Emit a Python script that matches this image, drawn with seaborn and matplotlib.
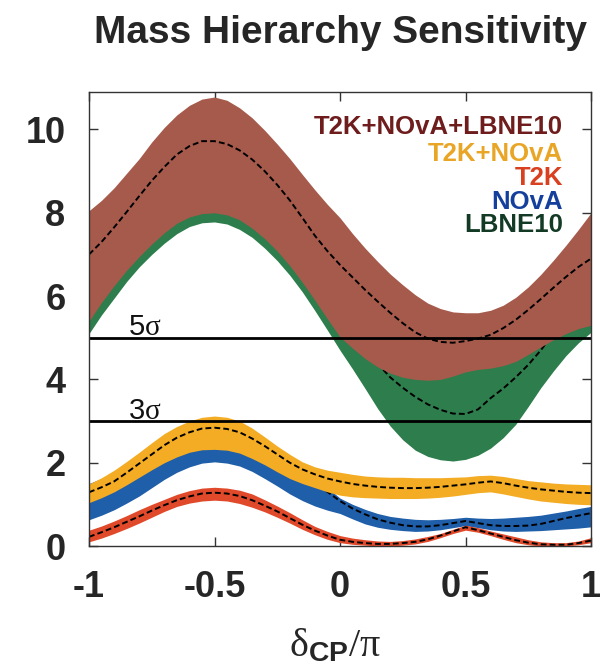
import numpy as np
import pandas as pd
import matplotlib
matplotlib.use("Agg")
import matplotlib.pyplot as plt
import seaborn as sns

# ---------------- data ----------------
delta_cp = [-1.0, -0.95, -0.9, -0.85, -0.8, -0.75, -0.7, -0.65, -0.6, -0.55,
            -0.5, -0.45, -0.4, -0.35, -0.3, -0.25, -0.2, -0.15, -0.1, -0.05,
            0.0, 0.05, 0.1, 0.15, 0.2, 0.25, 0.3, 0.35, 0.4, 0.45,
            0.5, 0.55, 0.6, 0.65, 0.7, 0.75, 0.8, 0.85, 0.9, 0.95, 1.0]

# T2K+NOvA+LBNE10
comb_hi = [8.05, 8.3, 8.6, 8.95, 9.3, 9.7, 10.05, 10.35, 10.58, 10.73,
           10.78, 10.7, 10.52, 10.28, 9.98, 9.65, 9.3, 8.92, 8.55, 8.2,
           7.88, 7.5, 7.15, 6.83, 6.53, 6.27, 6.03, 5.83, 5.7, 5.62,
           5.6, 5.6, 5.66, 5.78, 5.97, 6.22, 6.52, 6.86, 7.22, 7.6, 8.0]
comb_mid = [7.0, 7.3, 7.65, 8.02, 8.4, 8.77, 9.1, 9.4, 9.6, 9.72,
            9.72, 9.65, 9.5, 9.28, 9.0, 8.67, 8.3, 7.88, 7.45, 7.08,
            6.75, 6.45, 6.15, 5.87, 5.6, 5.35, 5.13, 4.98, 4.9, 4.88,
            4.92, 4.98, 5.07, 5.23, 5.43, 5.67, 5.93, 6.2, 6.46, 6.7, 6.9]
comb_lo = [5.4, 5.85, 6.25, 6.62, 6.95, 7.25, 7.52, 7.75, 7.9, 7.98,
           8.0, 7.95, 7.83, 7.63, 7.38, 7.08, 6.73, 6.33, 5.9, 5.45,
           5.02, 4.75, 4.5, 4.3, 4.15, 4.05, 4.0, 3.98, 4.0, 4.08,
           4.18, 4.24, 4.27, 4.33, 4.43, 4.6, 4.78, 4.95, 5.1, 5.22, 5.3]

# LBNE10
lbne_hi = [7.5, 7.85, 8.2, 8.6, 9.0, 9.4, 9.8, 10.1, 10.3, 10.38,
           10.4, 10.33, 10.2, 9.93, 9.6, 9.18, 8.7, 8.15, 7.6, 7.05,
           6.5, 6.08, 5.7, 5.43, 5.2, 5.03, 4.88, 4.7, 4.52, 4.4,
           4.35, 4.45, 4.6, 4.78, 5.0, 5.25, 5.5, 5.9, 6.4, 6.9, 7.4]
lbne_mid = [6.3, 6.7, 7.1, 7.5, 7.9, 8.27, 8.6, 8.83, 9.0, 9.08,
            9.1, 9.03, 8.9, 8.65, 8.35, 8.0, 7.6, 7.12, 6.6, 6.1,
            5.6, 5.15, 4.75, 4.38, 4.05, 3.8, 3.58, 3.4, 3.27, 3.18,
            3.17, 3.28, 3.55, 3.78, 4.05, 4.35, 4.7, 5.1, 5.5, 5.9, 6.3]
lbne_lo = [5.1, 5.55, 5.95, 6.35, 6.7, 7.0, 7.27, 7.5, 7.67, 7.76,
           7.78, 7.73, 7.6, 7.41, 7.15, 6.85, 6.5, 6.1, 5.65, 5.18,
           4.7, 4.25, 3.78, 3.3, 2.88, 2.55, 2.3, 2.15, 2.07, 2.04,
           2.08, 2.18, 2.35, 2.6, 2.92, 3.35, 3.8, 4.2, 4.57, 4.88, 5.13]

# T2K+NOvA
t2knova_hi = [1.49, 1.64, 1.82, 2.03, 2.25, 2.48, 2.7, 2.87, 3.0, 3.09,
              3.12, 3.09, 3.0, 2.83, 2.62, 2.4, 2.2, 2.02, 1.9, 1.82,
              1.77, 1.72, 1.68, 1.66, 1.65, 1.65, 1.64, 1.64, 1.64, 1.65,
              1.66, 1.69, 1.7, 1.67, 1.62, 1.57, 1.54, 1.51, 1.49, 1.48, 1.47]
t2knova_mid = [1.29, 1.41, 1.55, 1.76, 1.98, 2.2, 2.42, 2.6, 2.73, 2.82,
               2.84, 2.81, 2.73, 2.58, 2.4, 2.2, 2.0, 1.84, 1.72, 1.62,
               1.55, 1.49, 1.45, 1.42, 1.4, 1.39, 1.39, 1.4, 1.42, 1.45,
               1.48, 1.52, 1.55, 1.51, 1.45, 1.4, 1.36, 1.33, 1.3, 1.28, 1.27]
t2knova_lo = [1.04, 1.16, 1.3, 1.47, 1.65, 1.83, 2.0, 2.14, 2.25, 2.31,
              2.32, 2.3, 2.23, 2.1, 1.95, 1.78, 1.62, 1.5, 1.4, 1.3,
              1.22, 1.18, 1.16, 1.15, 1.14, 1.14, 1.14, 1.15, 1.17, 1.2,
              1.24, 1.28, 1.3, 1.25, 1.19, 1.13, 1.08, 1.05, 1.02, 1.0, 0.99]

# NOvA
nova_hi = [1.5, 1.62, 1.78, 1.95, 2.13, 2.31, 2.48, 2.62, 2.73, 2.8,
           2.82, 2.8, 2.73, 2.6, 2.45, 2.28, 2.1, 1.94, 1.7, 1.4,
           1.15, 1.0, 0.88, 0.78, 0.71, 0.67, 0.64, 0.63, 0.64, 0.66,
           0.69, 0.67, 0.66, 0.67, 0.69, 0.71, 0.74, 0.79, 0.84, 0.9, 0.95]
nova_mid = [1.15, 1.25, 1.4, 1.57, 1.75, 1.93, 2.1, 2.24, 2.35, 2.41,
            2.43, 2.4, 2.33, 2.2, 2.05, 1.88, 1.72, 1.6, 1.48, 1.3,
            1.08, 0.9, 0.76, 0.64, 0.56, 0.5, 0.47, 0.47, 0.5, 0.55,
            0.6, 0.55, 0.5, 0.48, 0.48, 0.49, 0.53, 0.6, 0.67, 0.73, 0.79]
nova_lo = [0.63, 0.74, 0.87, 1.03, 1.2, 1.4, 1.6, 1.77, 1.9, 1.99,
           2.02, 1.99, 1.92, 1.79, 1.62, 1.44, 1.25, 1.09, 0.96, 0.86,
           0.78, 0.65, 0.53, 0.45, 0.4, 0.37, 0.35, 0.36, 0.39, 0.44,
           0.49, 0.44, 0.39, 0.36, 0.35, 0.36, 0.37, 0.39, 0.41, 0.43, 0.46]

# T2K
t2k_hi = [0.38, 0.48, 0.6, 0.73, 0.87, 1.0, 1.12, 1.24, 1.33, 1.39,
          1.41, 1.39, 1.34, 1.25, 1.11, 0.96, 0.8, 0.63, 0.47, 0.35,
          0.25, 0.19, 0.15, 0.12, 0.11, 0.13, 0.17, 0.23, 0.3, 0.4,
          0.5, 0.44, 0.36, 0.29, 0.22, 0.15, 0.1, 0.08, 0.08, 0.12, 0.2]
t2k_mid = [0.22, 0.33, 0.45, 0.58, 0.71, 0.85, 0.98, 1.1, 1.19, 1.26,
           1.28, 1.26, 1.2, 1.1, 0.97, 0.83, 0.67, 0.51, 0.37, 0.25,
           0.15, 0.1, 0.07, 0.05, 0.05, 0.07, 0.1, 0.16, 0.25, 0.35,
           0.45, 0.38, 0.3, 0.22, 0.14, 0.08, 0.04, 0.03, 0.03, 0.07, 0.13]
t2k_lo = [0.1, 0.19, 0.3, 0.42, 0.55, 0.69, 0.83, 0.95, 1.03, 1.08,
          1.1, 1.08, 1.02, 0.93, 0.82, 0.69, 0.55, 0.4, 0.27, 0.16,
          0.08, 0.04, 0.02, 0.0, 0.0, 0.02, 0.05, 0.11, 0.2, 0.3,
          0.38, 0.33, 0.25, 0.16, 0.08, 0.03, 0.0, 0.0, 0.0, 0.03, 0.08]

legend_labels = ["T2K+NOvA+LBNE10", "T2K+NOvA", "T2K", "NOvA", "LBNE10"]
sigma_levels = [5, 3]
sigma_labels = [r"5$\mathrm{\sigma}$", r"3$\mathrm{\sigma}$"]
x_ticks = [-1, -0.5, 0, 0.5, 1]
x_tick_labels = ["-1", "-0.5", "0", "0.5", "1"]
y_ticks = [0, 2, 4, 6, 8, 10]

# ---------------- styling ----------------
sns.set_theme(style="ticks")
plt.rcParams["font.family"] = ["Liberation Sans", "DejaVu Sans"]
plt.rcParams["mathtext.fontset"] = "custom"
plt.rcParams["mathtext.rm"] = "Liberation Serif"
plt.rcParams["mathtext.it"] = "Liberation Serif"
plt.rcParams["mathtext.bf"] = "Liberation Sans:bold"

C_COMB = "#a65a4b"
C_LBNE = "#2e7d4c"
C_T2KNOVA = "#f3ac24"
C_NOVA = "#1f5ea9"
C_T2K = "#e0492a"
T_COMB = "#6e1c1c"
T_T2KNOVA = "#e9a526"
T_T2K = "#d9401f"
T_NOVA = "#143f9c"
T_LBNE = "#123a24"

df = pd.DataFrame({
    "x": delta_cp,
    "comb": comb_mid, "lbne": lbne_mid, "t2knova": t2knova_mid,
    "nova": nova_mid, "t2k": t2k_mid,
})

fig = plt.figure(figsize=(6.15, 6.68), dpi=100)
ax = fig.add_axes([89 / 615, 1 - 546 / 668, (591 - 89) / 615, (546 - 92) / 668])

dash_kw = dict(color="black", linewidth=1.4, dashes=(3, 1.6))

bands = [
    (lbne_lo, lbne_hi, "lbne", C_LBNE),
    (comb_lo, comb_hi, "comb", C_COMB),
    (nova_lo, nova_hi, "nova", C_NOVA),
    (t2knova_lo, t2knova_hi, "t2knova", C_T2KNOVA),
    (t2k_lo, t2k_hi, "t2k", C_T2K),
]
z = 2.0
for lo, hi, key, col in bands:
    ax.fill_between(delta_cp, lo, hi, color=col, linewidth=0, zorder=z)
    sns.lineplot(data=df, x="x", y=key, ax=ax, zorder=z + 0.05, **dash_kw)
    z += 0.1

for lvl, lab in zip(sigma_levels, sigma_labels):
    ax.axhline(lvl, color="black", linewidth=2.0, zorder=4)
    ax.text(-0.845, lvl + 0.06, lab, fontsize=21, ha="left", va="baseline",
            color="#111111", zorder=5)

legend_y = [10.05, 9.42, 8.83, 8.26, 7.70]
legend_cols = [T_COMB, T_T2KNOVA, T_T2K, T_NOVA, T_LBNE]
for lab, yy, col in zip(legend_labels, legend_y, legend_cols):
    ax.text(0.888, yy, lab, color=col, fontsize=18.5, fontweight="bold",
            ha="right", va="center", zorder=6)

ax.set_xlim(-1, 1)
ax.set_ylim(0, 10.9)
ax.set_xticks(x_ticks)
ax.set_xticklabels(x_tick_labels)
ax.set_yticks(y_ticks)
ax.tick_params(axis="both", which="both", direction="in", length=6.5, width=1,
               top=True, right=True, labelsize=26, pad=17, color="#333333")
for lbl in ax.get_xticklabels() + ax.get_yticklabels():
    lbl.set_fontweight("bold")
for sp in ax.spines.values():
    sp.set_linewidth(1.0)
    sp.set_color("#333333")
    sp.set_zorder(7)
ax.set_ylabel("")
ax.set_xlabel("")

fig.text(335 / 615, 1 - 656 / 668,
         r"$\mathrm{\delta}_{\mathbf{CP}}\mathrm{/\pi}$", fontsize=29,
         ha="center", va="baseline")

fig.text(340 / 615, 1 - 43 / 668, "Mass Hierarchy Sensitivity", fontsize=28,
         fontweight="bold", ha="center", va="baseline")

fig.savefig("out.png", dpi=100, facecolor="white")
